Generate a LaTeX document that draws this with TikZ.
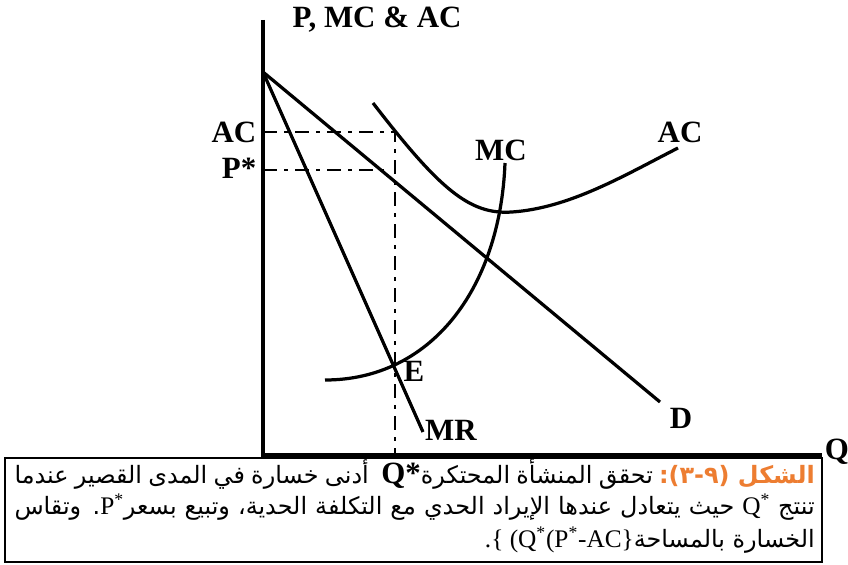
\documentclass[tikz,border=0pt]{standalone}
\usepackage{fontspec}
\setmainfont{Liberation Serif}
\newfontfamily\arabicfont[Script=Arabic]{DejaVu Sans}
\TeXXeTstate=1
\usetikzlibrary{calc}
\definecolor{figorange}{RGB}{237,125,49}

\begin{document}
\begin{tikzpicture}[x=0.025cm,y=-0.025cm]
	\tikzstyle{axis}=[line width=3pt]
	\tikzstyle{curve}=[line width=2.3pt]
	\tikzstyle{guide}=[line width=1.8pt,dash pattern=on 3.5mm off 1.8mm on 0.9mm off 1.8mm]
	\tikzstyle{lbl}=[font=\fontsize{22}{24}\selectfont\bfseries,inner sep=1pt]
	\tikzstyle{capline}=[font=\fontsize{17}{20}\selectfont\arabicfont,inner sep=0pt,anchor=east]

	\useasboundingbox (0,0) rectangle (848,565);

	% axes
	\coordinate (O) at (263,455);
	\coordinate (Ytop) at (263,20);
	\coordinate (Xend) at (822,455);
	\draw [axis] (Ytop) -- (O) -- (Xend);

	\node (ylab) [lbl] at (377,20) {P, MC \& AC};
	\node (qlab) [lbl] at (837,452) {Q};

	% demand and marginal revenue
	\coordinate (A) at (263,72);
	\coordinate (Dend) at (660,402);
	\coordinate (MRend) at (423,432);
	\draw [curve] (A) -- (Dend);
	\draw [curve] (A) -- (MRend);
	\node (dlab) [lbl] at (681,418) {D};
	\node (mrlab) [lbl] at (451,430) {MR};

	% cost curves
	\draw [curve] (325,380) .. controls (430,380) and (500,290) .. (505,163);
	\draw [curve] (373,103) .. controls (440,190) and (470,215) .. (512,212) .. controls (570,208) and (625,175) .. (678,148);
	\node (mclab) [lbl] at (501,150) {MC};
	\node (aclab) [lbl] at (680,132) {AC};
	\node (elab) [lbl] at (414,371) {E};

	% price, cost and quantity
	\coordinate (yAC) at (263,132);
	\coordinate (kAC) at (395,132);
	\coordinate (yP) at (263,170);
	\coordinate (dP) at (384,170);
	\coordinate (qs) at (395,455);
	\draw [guide] (yAC) -- (kAC) -- (qs);
	\draw [guide] (yP) -- (dP);
	\node (acy) [lbl,anchor=east] at (258,132) {AC};
	\node (py) [lbl,anchor=east] at (258,168) {P*};

	% caption
	\draw [line width=1.6pt,fill=white] (5,458) rectangle (822,562);
	\node (cap1) [capline] at (815,474) {\hbox to 20cm{\beginR تحقق المنشأة المحتكرة\beginL{\rmfamily\bfseries\fontsize{22}{24}\selectfont Q*}\endL{} \ أدنى خسارة في المدى القصير عندما\endR\ \textcolor{figorange}{\hbox{\bfseries\beginR الشكل (٩-٣):\endR}}}};
	\node (cap2) [capline] at (815,507) {\hbox to 20cm{\beginR تنتج \beginL{\rmfamily\fontsize{18}{20}\selectfont Q\textsuperscript{*}}\endL{} حيث يتعادل عندها الإيراد الحدي مع التكلفة الحدية، وتبيع بسعر\beginL{\rmfamily\fontsize{18}{20}\selectfont P\textsuperscript{*}}\endL. وتقاس\endR}};
	\node (cap3) [capline] at (815,540) {\beginR الخسارة بالمساحة\beginL{\rmfamily\fontsize{18}{20}\selectfont .\{ (Q\textsuperscript{*}(P\textsuperscript{*}-AC\}}\endL\endR};
\end{tikzpicture}
\end{document}
